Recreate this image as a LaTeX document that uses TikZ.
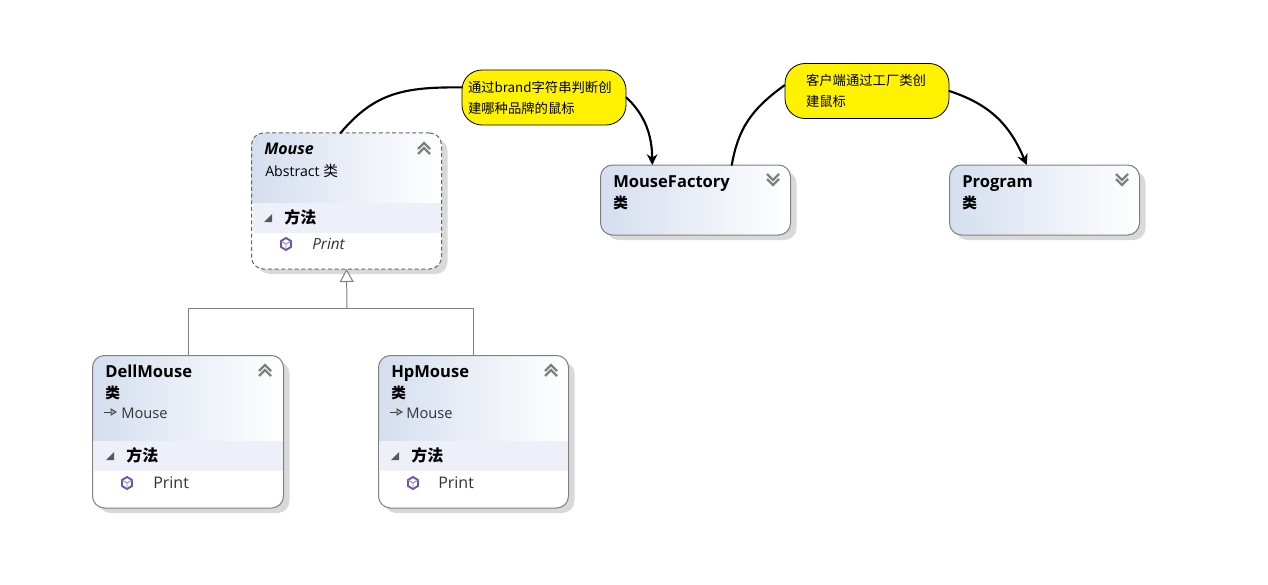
\documentclass[tikz,border=0pt]{standalone}
\usepackage{fontspec}
\setmainfont{Open Sans}
\newfontfamily\cjk{Noto Sans CJK SC}
\usepackage{xcolor}
\usepackage{tikz}
\usetikzlibrary{arrows.meta}

\definecolor{headleft}{HTML}{D5DEEF}
\definecolor{bandfill}{HTML}{EDF0F8}
\definecolor{notefill}{HTML}{FFF200}
\definecolor{cubeline}{HTML}{6B4FA8}

\tikzset{
  classframe/.style={draw=black!50, line width=0.75pt, rounded corners=9pt, inner sep=0pt, outer sep=0pt},
  abstractframe/.style={classframe, densely dashed, draw=black!60},
  notebox/.style={draw=black, fill=notefill, line width=0.6pt, rounded corners=15pt, inner xsep=0pt, inner ysep=0pt,
    text width=123pt, minimum height=41.25pt, align=left, font=\fontsize{10}{15.6}\selectfont\cjk},
  titletext/.style={anchor=base west, inner sep=0pt, font=\fontsize{12.4}{14}\selectfont\bfseries},
  kindtext/.style={anchor=base west, inner sep=0pt, font=\fontsize{10.6}{12}\selectfont},
  kindmark/.style={anchor=base west, inner sep=0pt, font=\fontsize{11}{12}\selectfont\cjk\bfseries},
  grouptext/.style={anchor=base west, inner sep=0pt, font=\fontsize{12}{12}\selectfont\cjk\bfseries},
  membertext/.style={anchor=base west, inner sep=0pt, font=\fontsize{11}{12}\selectfont, text=black!80},
  notelink/.style={line width=1.6pt, line cap=round},
  notearrow/.style={notelink, -{Stealth[length=8pt, width=8pt, inset=2.5pt]}},
  inherit/.style={draw=black!50, line width=0.75pt},
  pics/chevup/.style={code={
    \draw[black!50, line width=1.7pt] (-6,1) -- (0,-5) -- (6,1);
    \draw[black!50, line width=1.7pt] (-6,6) -- (0,0) -- (6,6);}},
  pics/chevdown/.style={code={
    \draw[black!50, line width=1.7pt] (-6,-6) -- (0,0) -- (6,-6);
    \draw[black!50, line width=1.7pt] (-6,-1) -- (0,5) -- (6,-1);}},
  pics/foldmark/.style={code={
    \fill[black!65] (-4,4) -- (4,4) -- (4,-4) -- cycle;}},
  pics/cube/.style={code={
    \draw[cubeline, line width=1.4pt, line join=round] (0,-6) -- (5,-3) -- (5,3) -- (0,6) -- (-5,3) -- (-5,-3) -- cycle;
    \draw[cubeline!70, line width=0.7pt] (-5,-3) -- (0,0) -- (5,-3) (0,0) -- (0,6);}},
  pics/basemark/.style={code={
    \draw[black!75, line width=0.7pt] (-6,0) -- (1,0);
    \draw[black!75, line width=0.7pt, fill=black!30] (1,-3) -- (6,0) -- (1,3) -- cycle;}},
}

% left, top, right, bottom, bottom of the head, style, name
\newcommand{\classbox}[7]{
  \fill[black!15, rounded corners=9pt] (#1+6,#2+6) rectangle (#3+6,#4+5);
  \fill[white, rounded corners=9pt] (#1,#2) rectangle (#3,#4);
  \begin{scope}
    \clip[rounded corners=9pt] (#1,#2) rectangle (#3,#4);
    \shade[left color=headleft, right color=white] (#1,#2) rectangle (#3,#5);
  \end{scope}
  \node[#6, minimum width=0.75pt*(#3-#1), minimum height=0.75pt*(#4-#2)] (#7) at ({(#1+#3)/2},{(#2+#4)/2}) {};
}

\begin{document}
\begin{tikzpicture}[x=0.75pt, y=-0.75pt]
       \useasboundingbox (0,0) rectangle (1268,585);
       
       \classbox{251.5}{133}{441.5}{269}{202}{abstractframe}{mouse}
       \classbox{92.5}{355.5}{283.5}{508}{440}{classframe}{dellmouse}
       \classbox{378.5}{355.5}{568.5}{508}{440}{classframe}{hpmouse}
       \classbox{600.5}{165}{790.5}{235}{235}{classframe}{mousefactory}
       \classbox{949.5}{165}{1139.5}{235}{235}{classframe}{program}
       
       \fill[bandfill] (252.5,203) rectangle (440.5,233);
       \fill[bandfill] (93.5,441) rectangle (282.5,471);
       \fill[bandfill] (379.5,441) rectangle (567.5,471);
       
       % Mouse
       \node[titletext, font=\fontsize{12}{14}\selectfont\bfseries\itshape] (mousetitle) at (264,154) {Mouse};
       \node[kindtext] (mousekind) at (265,176) {Abstract {\cjk\fontsize{11}{12}\selectfont 类}};
       \node[grouptext] (mousegroup) at (284,223) {方法};
       \node[membertext, font=\fontsize{11.5}{12}\selectfont\itshape] (mouseprint) at (312,249) {Print};
       \pic at (424,148) {chevup};
       \pic at (268,218) {foldmark};
       \pic at (286,244) {cube};
       
       % DellMouse
       \node[titletext] (delltitle) at (105,377) {DellMouse};
       \node[kindmark] (dellkind) at (105,398) {类};
       \node[membertext] (dellbase) at (121,418) {Mouse};
       \node[grouptext] (dellgroup) at (126,461) {方法};
       \node[membertext, font=\fontsize{12}{12}\selectfont] (dellprint) at (153,488) {Print};
       \pic at (265,370) {chevup};
       \pic at (110,456) {foldmark};
       \pic at (127,483) {cube};
       \pic at (110,412) {basemark};
       
       % HpMouse
       \node[titletext] (hptitle) at (391,377) {HpMouse};
       \node[kindmark] (hpkind) at (391,398) {类};
       \node[membertext] (hpbase) at (406,418) {Mouse};
       \node[grouptext] (hpgroup) at (411,461) {方法};
       \node[membertext, font=\fontsize{12}{12}\selectfont] (hpprint) at (438,488) {Print};
       \pic at (551,370) {chevup};
       \pic at (395,456) {foldmark};
       \pic at (413,483) {cube};
       \pic at (396,412) {basemark};
       
       % MouseFactory and Program
       \node[titletext] (factorytitle) at (613,187) {MouseFactory};
       \node[kindmark] (factorykind) at (613,208) {类};
       \pic at (773,180) {chevdown};
       \node[titletext] (programtitle) at (962,187) {Program};
       \node[kindmark] (programkind) at (962,208) {类};
       \pic at (1122,180) {chevdown};
       
       % notes
       \node[notebox] (brandnote) at (544,97.5) {\hspace*{4.5pt}通过brand字符串判断创\\\hspace*{4.5pt}建哪种品牌的鼠标};
       \node[notebox] (clientnote) at (867,91) {\hspace*{15.75pt}客户端通过工厂类创\\\hspace*{15.75pt}建鼠标};
       
       \draw[notelink] (mouse.95) .. controls (375,92) and (405,87) .. (brandnote.173);
       \draw[notearrow] (brandnote.east) .. controls (645,115) and (652,135) .. (mousefactory.141);
       \draw[notelink] (mousefactory.44) .. controls (738,130) and (750,110) .. (clientnote.176);
       \draw[notearrow] (clientnote.east) .. controls (985,103) and (1008,120) .. (program.117);
       
       % inheritance
       \coordinate (bus) at (347,308);
       \draw[inherit] (dellmouse.north) |- (bus);
       \draw[inherit] (hpmouse.north) |- (bus);
       \draw[inherit, -{Triangle[open, length=9.75pt, width=10.5pt, fill=white]}] (bus) -- (mouse.south);
\end{tikzpicture}
\end{document}
